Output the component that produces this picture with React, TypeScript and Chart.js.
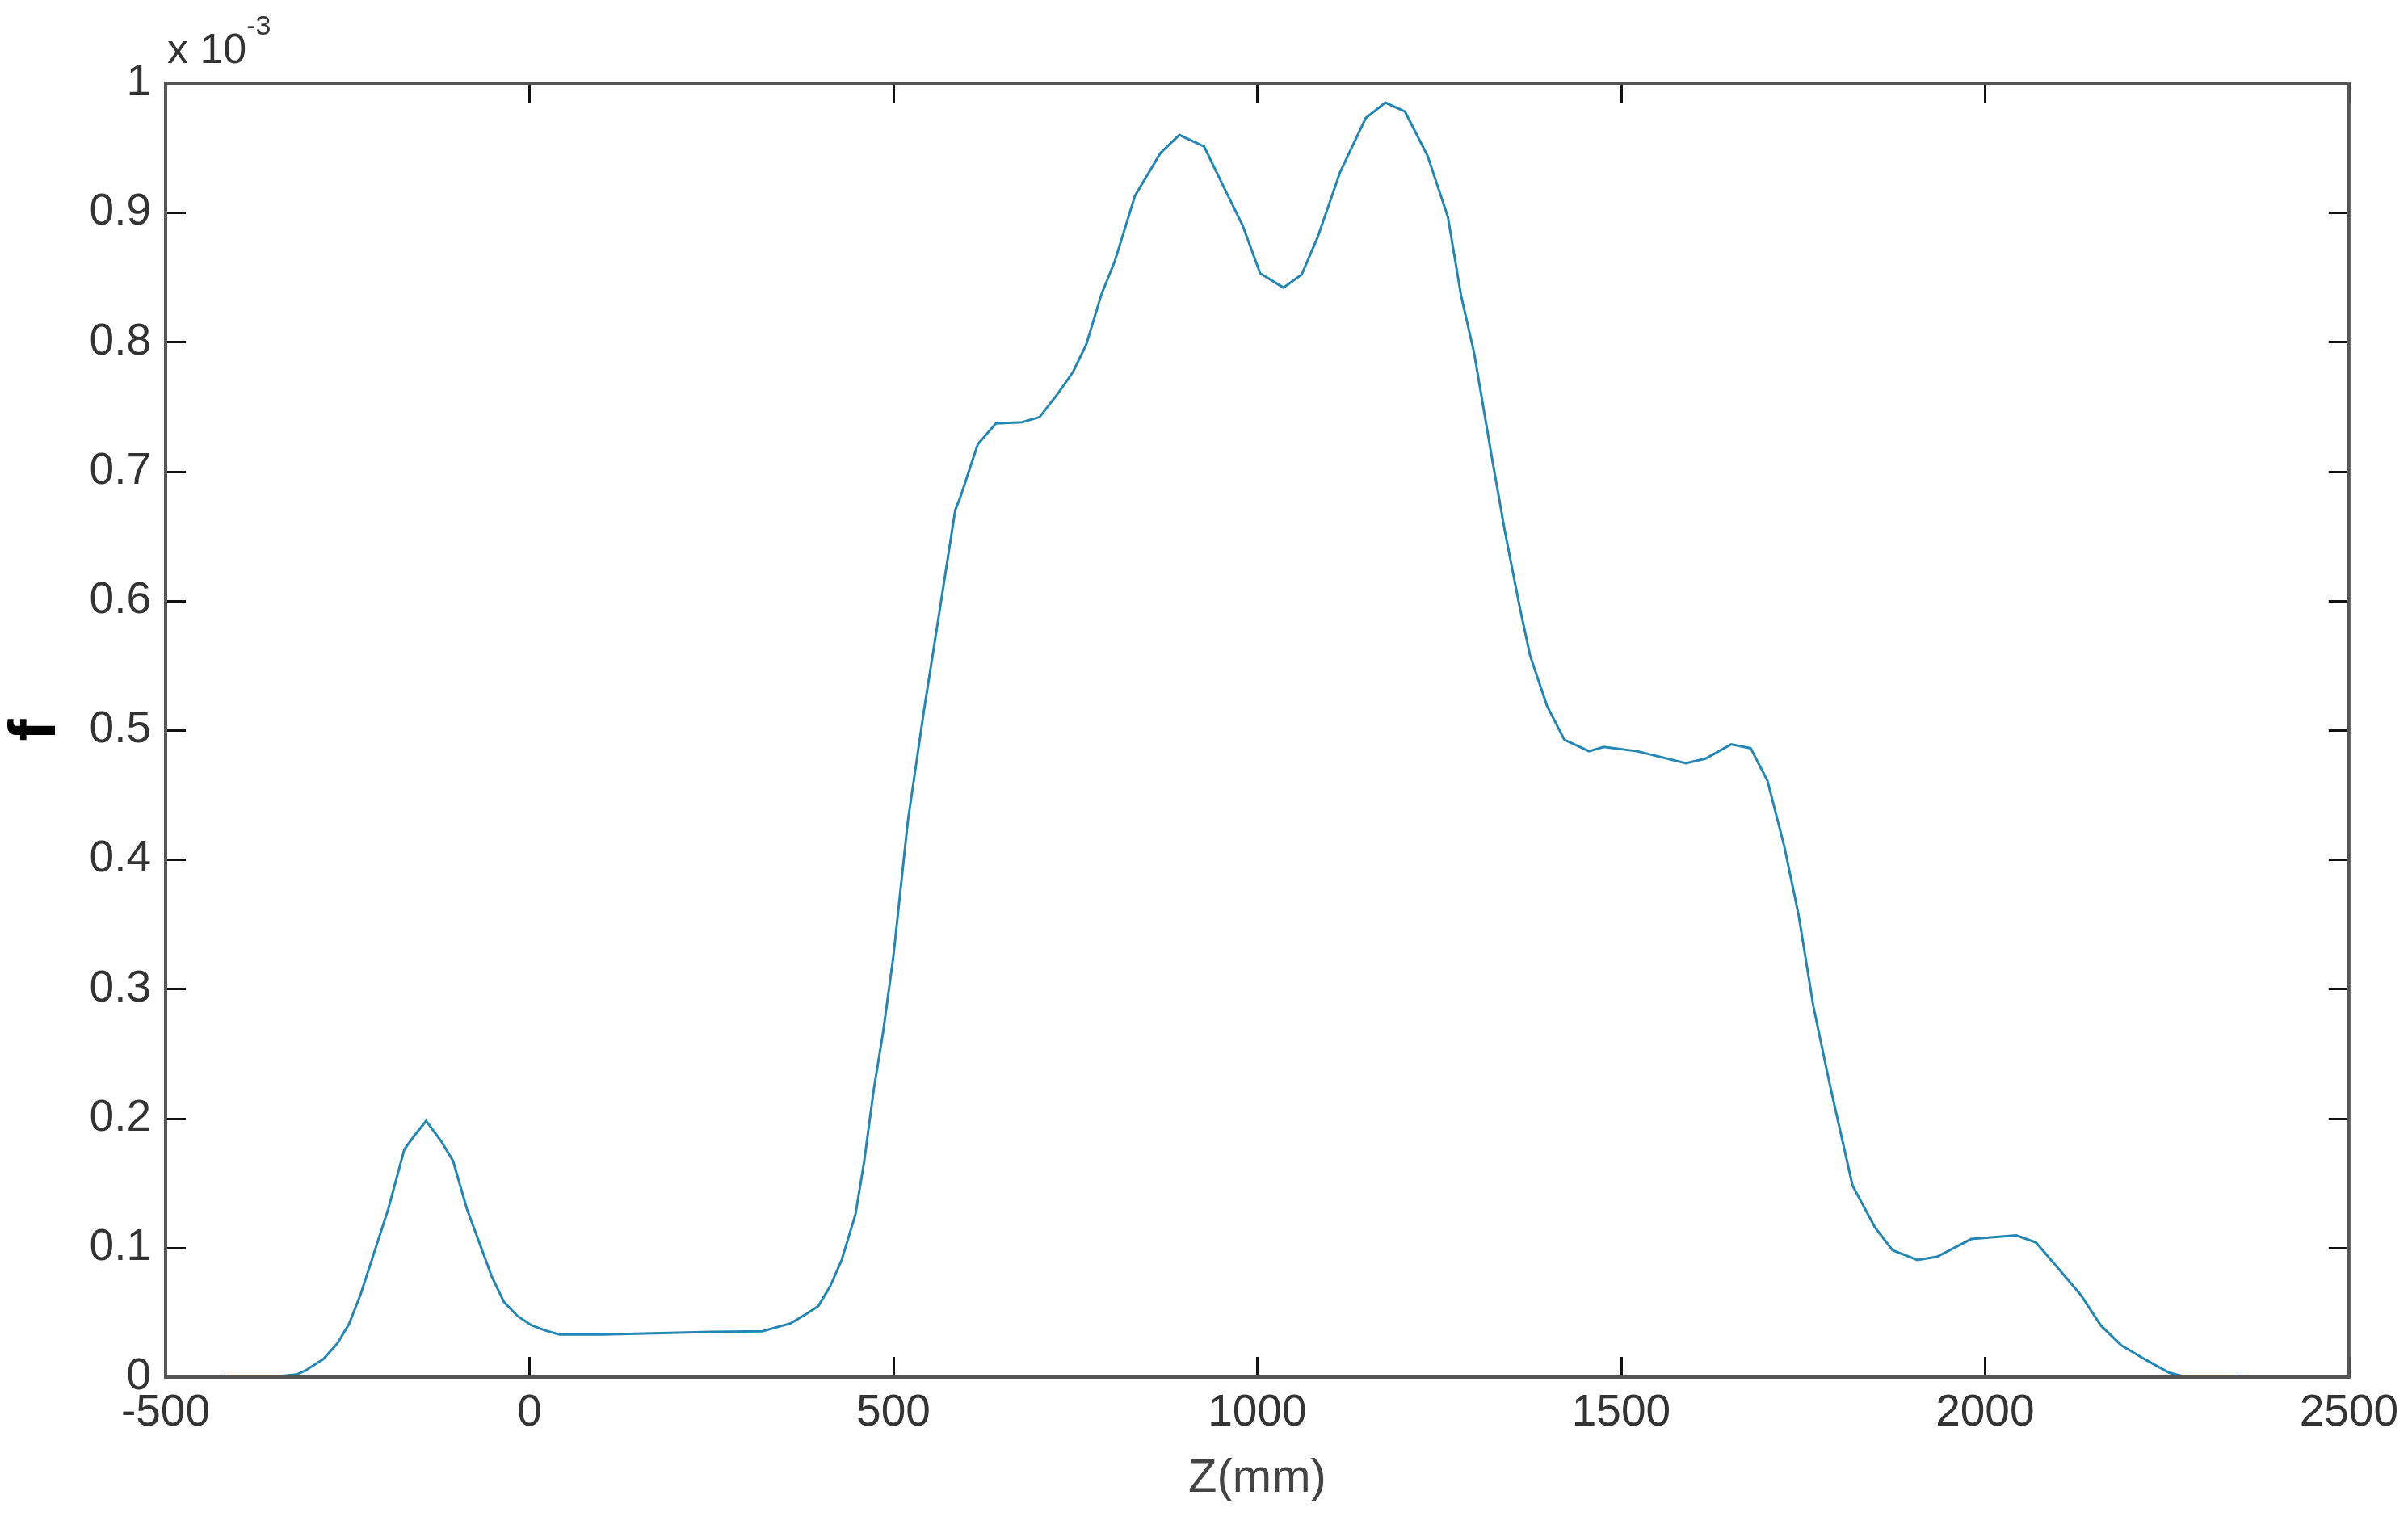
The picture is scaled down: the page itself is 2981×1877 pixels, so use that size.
import React, { useEffect, useRef } from 'react';
import { Chart, registerables } from 'chart.js';

Chart.register(...registerables);

// Z positions (mm)
const zValues = [
  -420, -380, -340, -320, -308, -283, -264, -248, -232, -213, -194, -172, -159, -142,
  -121, -105, -86, -67, -52, -35, -16, 3, 22, 41, 100, 181, 250, 320, 359, 381, 397,
  413, 429, 448, 460, 473, 486, 500, 520, 542, 564, 585, 592, 616, 641, 677, 701, 726,
  747, 765, 786, 804, 832, 867, 893, 927, 952, 980, 1004, 1036, 1061, 1083, 1114, 1149,
  1176, 1203, 1234, 1262, 1280, 1298, 1322, 1340, 1361, 1375, 1398, 1422, 1456, 1476,
  1522, 1589, 1616, 1651, 1678, 1701, 1724, 1744, 1764, 1787, 1818, 1849, 1873, 1907,
  1934, 1981, 2043, 2070, 2097, 2132, 2159, 2187, 2222, 2253, 2270, 2310, 2350,
];

// f values, in units of 1e-3
const fValues = [
  0.001, 0.001, 0.001, 0.002, 0.005, 0.014, 0.026, 0.041, 0.064, 0.097, 0.13, 0.176, 0.186, 0.198,
  0.182, 0.167, 0.13, 0.101, 0.078, 0.058, 0.047, 0.04, 0.036, 0.033, 0.033, 0.034, 0.035, 0.0355, 0.0416, 0.049, 0.055,
  0.07, 0.0905, 0.126, 0.167, 0.222, 0.267, 0.325, 0.43, 0.515, 0.594, 0.67, 0.68, 0.721, 0.737, 0.738, 0.742, 0.76,
  0.777, 0.798, 0.837, 0.862, 0.913, 0.946, 0.96, 0.951, 0.922, 0.89, 0.853, 0.842, 0.852, 0.881, 0.9315, 0.973,
  0.985, 0.978, 0.944, 0.8965, 0.836, 0.7915, 0.712, 0.6545, 0.594, 0.5575, 0.519, 0.4926, 0.4837, 0.487,
  0.4837, 0.4745, 0.478, 0.489, 0.486, 0.461, 0.4107, 0.3567, 0.287, 0.2254, 0.148, 0.1155, 0.098, 0.0905,
  0.093, 0.1067, 0.1095, 0.104, 0.0864, 0.0632, 0.04, 0.0247, 0.013, 0.0034, 0.001, 0.001, 0.001,
];

const xTickValues = [-500, 0, 500, 1000, 1500, 2000, 2500];
const yTickValues = [0, 0.1, 0.2, 0.3, 0.4, 0.5, 0.6, 0.7, 0.8, 0.9, 1];
const xLabel = 'Z(mm)';
const yLabel = 'f';
const exponentBase = 'x 10';
const exponentPower = '-3';

const FONT = "'Liberation Sans', Arial, Helvetica, sans-serif";

const framePlugin = {
  id: 'matlabFrame',
  afterDatasetsDraw(chart: any) {
    const { ctx, chartArea } = chart;
    const { left, right, top, bottom } = chartArea;
    const xs = chart.scales.x;
    const ys = chart.scales.y;
    ctx.save();
    // inner ticks
    ctx.strokeStyle = '#111';
    ctx.lineWidth = 3;
    const tl = 25;
    ctx.beginPath();
    xTickValues.forEach((v) => {
      const px = Math.round(xs.getPixelForValue(v)) + 0.5;
      ctx.moveTo(px, bottom);
      ctx.lineTo(px, bottom - tl);
      ctx.moveTo(px, top);
      ctx.lineTo(px, top + tl);
    });
    yTickValues.forEach((v) => {
      const py = Math.round(ys.getPixelForValue(v)) + 0.5;
      ctx.moveTo(left, py);
      ctx.lineTo(left + tl, py);
      ctx.moveTo(right, py);
      ctx.lineTo(right - tl, py);
    });
    ctx.stroke();
    // box
    ctx.strokeStyle = '#555';
    ctx.lineWidth = 4;
    ctx.strokeRect(left, top, right - left, bottom - top);
    // exponent
    ctx.fillStyle = '#333';
    ctx.textAlign = 'left';
    ctx.textBaseline = 'alphabetic';
    ctx.font = `52px ${FONT}`;
    ctx.fillText(exponentBase, left + 2, top - 25);
    const w = ctx.measureText(exponentBase).width;
    ctx.font = `34px ${FONT}`;
    ctx.fillText(exponentPower, left + 2 + w, top - 60);
    ctx.restore();
  },
};

export default function App() {
  const canvasRef = useRef<HTMLCanvasElement | null>(null);

  useEffect(() => {
    const canvas = canvasRef.current;
    if (!canvas) return;
    const data = zValues.map((z, i) => ({ x: z, y: fValues[i] }));
    const chart = new Chart(canvas, {
      type: 'line',
      data: {
        datasets: [
          {
            data,
            borderColor: '#2387b5',
            borderWidth: 3,
            pointRadius: 0,
            tension: 0,
            fill: false,
          },
        ],
      },
      options: {
        animation: false,
        responsive: false,
        devicePixelRatio: 1,
        layout: { padding: { top: 103, right: 66, left: 0, bottom: 0 } },
        plugins: { legend: { display: false }, tooltip: { enabled: false } },
        scales: {
          x: {
            type: 'linear',
            min: -500,
            max: 2500,
            afterFit: (s: any) => {
              s.height = 172;
            },
            afterBuildTicks: (s: any) => {
              s.ticks = xTickValues.map((v) => ({ value: v }));
            },
            grid: { display: false, drawTicks: false },
            border: { display: false },
            ticks: {
              padding: 12,
              color: '#333',
              font: { size: 55, family: FONT },
              maxRotation: 0,
              autoSkip: false,
              callback: (v: any) => String(v),
            },
            title: {
              display: true,
              text: xLabel,
              color: '#444',
              font: { size: 58, family: FONT },
              padding: { top: 0, bottom: 11 },
            },
          },
          y: {
            type: 'linear',
            min: 0,
            max: 1,
            afterFit: (s: any) => {
              s.width = 205;
            },
            afterBuildTicks: (s: any) => {
              s.ticks = yTickValues.map((v) => ({ value: v }));
            },
            grid: { display: false, drawTicks: false },
            border: { display: false },
            ticks: {
              padding: 18,
              color: '#333',
              font: { size: 55, family: FONT },
              autoSkip: false,
              callback: (v: any) => String(Math.round(Number(v) * 10) / 10),
            },
            title: {
              display: true,
              text: yLabel,
              color: '#000',
              font: { size: 82, family: FONT, weight: 'bold', lineHeight: 1 },
              padding: { top: 4, bottom: 0 },
            },
          },
        },
      },
      plugins: [framePlugin],
    } as any);
    return () => chart.destroy();
  }, []);

  return (
    <div style={{ position: 'fixed', left: 0, top: 0, width: 2981, height: 1877, background: '#fff' }}>
      <canvas ref={canvasRef} width={2981} height={1877} style={{ width: 2981, height: 1877, display: 'block' }} />
    </div>
  );
}
